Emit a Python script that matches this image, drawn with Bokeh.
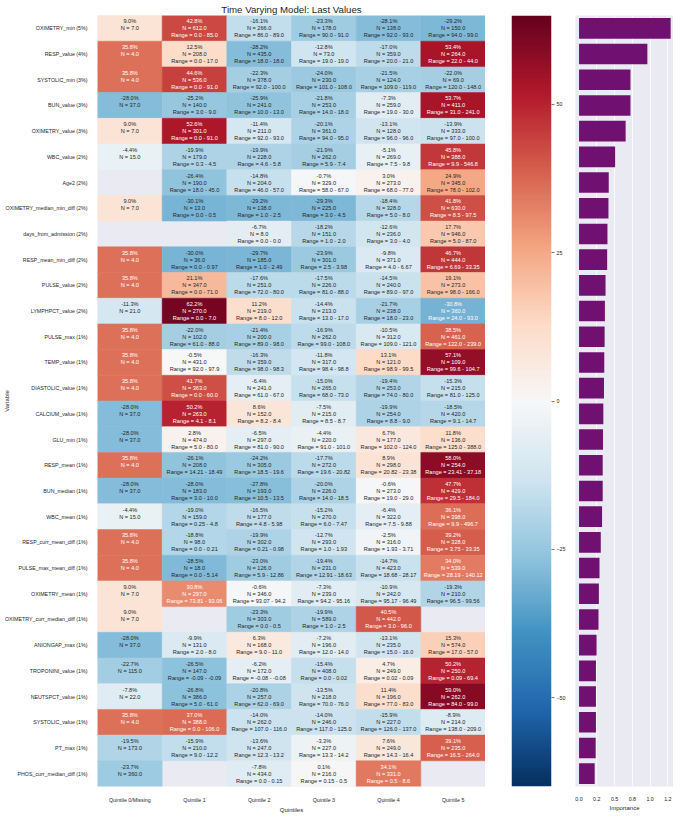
import numpy as np
from bokeh.plotting import figure
from bokeh.layouts import row
from bokeh.models import FactorRange, Range1d, FixedTicker, LinearColorMapper, ColumnDataSource
from bokeh.core.properties import value
from bokeh.embed import file_html
from bokeh.resources import INLINE

FONT = "Liberation Sans"
TXT = "#262626"

title = "Time Varying Model: Last Values"
variables = [
    "OXIMETRY_min (5%)", "RESP_value (4%)", "SYSTOLIC_min (3%)", "BUN_value (3%)",
    "OXIMETRY_value (3%)", "WBC_value (2%)", "Age2 (2%)", "OXIMETRY_median_min_diff (2%)",
    "days_from_admission (2%)", "RESP_mean_min_diff (2%)", "PULSE_value (2%)",
    "LYMPHPCT_value (2%)", "PULSE_max (1%)", "TEMP_value (1%)", "DIASTOLIC_value (1%)",
    "CALCIUM_value (1%)", "GLU_min (1%)", "RESP_mean (1%)", "BUN_median (1%)",
    "WBC_mean (1%)", "RESP_curr_mean_diff (1%)", "PULSE_max_mean_diff (1%)",
    "OXIMETRY_mean (1%)", "OXIMETRY_curr_median_diff (1%)", "ANIONGAP_max (1%)",
    "TROPONINI_value (1%)", "NEUTSPCT_value (1%)", "SYSTOLIC_value (1%)", "PT_max (1%)",
    "PHOS_curr_median_diff (1%)",
]
quintiles = ["Quintile 0/Missing", "Quintile 1", "Quintile 2", "Quintile 3", "Quintile 4", "Quintile 5"]

pct_q0 = [9.0, 35.8, 35.8, -28.0, 9.0, -4.4, None, 9.0, None, 35.8, 35.8, -11.3, 35.8, 35.8, 35.8,
          -28.0, -28.0, 35.8, -28.0, -4.4, 35.8, 35.8, 9.0, 9.0, -28.0, -22.7, -7.8, 35.8, -19.5, -23.7]
n_q0 = [7, 4, 4, 37, 7, 15, None, 7, None, 4, 4, 21, 4, 4, 4,
        37, 37, 4, 37, 15, 4, 4, 7, 7, 37, 115, 22, 4, 173, 360]

pct_q1 = [42.8, 12.5, 44.6, -25.2, 52.6, -19.9, -26.4, -30.1, None, -30.0, 21.1, 62.2, -22.0, -0.5, 41.7,
          50.2, 2.8, -26.1, -28.0, -19.0, -18.8, -28.5, 30.8, None, -9.9, -26.5, -26.8, 37.0, -15.9, None]
n_q1 = [612, 208, 536, 140, 301, 179, 190, 13, None, 36, 347, 270, 102, 431, 363,
        263, 474, 208, 183, 159, 98, 18, 297, None, 131, 147, 386, 388, 210, None]
lo_q1 = [0.0, 0.0, 0.0, 3.0, 0.0, 0.3, 18.0, 0.0, None, 0.0, 0.0, 0.0, 61.0, 92.0, 0.0,
         4.1, 5.0, 14.21, 3.0, 0.25, 0.0, 0.0, 73.81, None, 2.0, -0.09, 5.0, 0.0, 9.0, None]
hi_q1 = [85.0, 17.0, 91.0, 9.0, 91.0, 4.5, 45.0, 0.5, None, 0.97, 71.0, 7.0, 88.0, 97.9, 60.0,
         8.1, 80.0, 18.49, 10.0, 4.8, 0.21, 5.14, 93.06, None, 8.0, -0.09, 61.0, 106.0, 12.2, None]

pct_q2 = [-16.1, -28.2, -22.3, -25.9, -11.4, -19.9, -14.8, -29.2, -6.7, -29.7, -17.6, 11.2, -21.4, -16.3, -6.4,
          8.6, -6.5, -24.2, -27.8, -16.5, -19.9, -23.0, -0.6, -23.3, 6.3, -6.2, -20.8, -14.0, -13.6, -7.8]
n_q2 = [266, 435, 378, 241, 211, 228, 204, 138, 8, 185, 251, 219, 200, 359, 241,
        152, 297, 305, 193, 177, 302, 126, 346, 303, 168, 172, 257, 262, 247, 434]
lo_q2 = [86.0, 18.0, 92.0, 10.0, 92.0, 4.6, 46.0, 1.0, 0.0, 1.0, 72.0, 8.0, 89.0, 98.0, 61.0,
         8.2, 81.0, 18.5, 10.5, 4.8, 0.21, 5.9, 93.07, 0.0, 9.0, -0.08, 62.0, 107.0, 12.3, 0.0]
hi_q2 = [89.0, 18.0, 100.0, 13.0, 93.0, 5.8, 57.0, 2.5, 0.0, 2.49, 80.0, 12.0, 98.0, 98.3, 67.0,
         8.4, 90.0, 19.6, 13.5, 5.98, 0.98, 12.86, 94.2, 0.5, 11.0, -0.08, 69.0, 116.0, 13.2, 0.15]

pct_q3 = [-23.3, -12.8, -24.0, -21.8, -20.1, -21.9, -0.7, -29.3, -18.2, -23.9, -17.5, -14.4, -16.9, -11.8, -15.0,
          -7.5, -4.4, -17.7, -20.0, -15.2, -12.7, -19.4, -7.3, -19.9, -7.2, -15.4, -13.5, -14.0, -3.3, 0.1]
n_q3 = [178, 73, 230, 253, 361, 262, 329, 225, 151, 301, 226, 213, 262, 317, 265,
        215, 220, 272, 226, 270, 293, 231, 239, 589, 196, 408, 218, 246, 227, 216]
lo_q3 = [90.0, 19.0, 101.0, 14.0, 94.0, 5.9, 58.0, 3.0, 1.0, 2.5, 81.0, 13.0, 99.0, 98.4, 68.0,
         8.5, 91.0, 19.6, 14.0, 6.0, 1.0, 12.91, 94.2, 1.0, 12.0, 0.0, 70.0, 117.0, 13.3, 0.15]
hi_q3 = [91.0, 19.0, 108.0, 18.0, 95.0, 7.4, 67.0, 4.5, 2.0, 3.98, 88.0, 17.0, 108.0, 98.8, 73.0,
         8.7, 101.0, 20.82, 18.5, 7.47, 1.93, 18.63, 95.16, 2.5, 14.0, 0.02, 76.0, 125.0, 14.2, 0.5]

pct_q4 = [-28.1, -17.0, -21.5, -7.3, -13.1, -5.1, 3.0, -18.4, -12.6, -9.8, -14.5, -21.7, -10.5, 13.1, -19.4,
          -19.9, 6.7, 8.9, -0.6, -6.4, -2.5, -14.7, -10.9, 40.5, -13.1, 4.7, 11.4, -15.9, 7.6, 34.1]
n_q4 = [138, 359, 124, 259, 128, 269, 273, 328, 236, 371, 240, 238, 312, 121, 253,
        254, 177, 298, 273, 322, 316, 423, 242, 442, 235, 249, 196, 227, 249, 331]
lo_q4 = [92.0, 20.0, 109.0, 19.0, 96.0, 7.5, 68.0, 5.0, 3.0, 4.0, 89.0, 18.0, 109.0, 98.9, 74.0,
         8.8, 102.0, 20.82, 19.0, 7.5, 1.93, 18.68, 95.17, 3.0, 15.0, 0.02, 77.0, 126.0, 14.3, 0.5]
hi_q4 = [93.0, 21.0, 119.0, 30.0, 96.0, 9.8, 77.0, 8.0, 4.0, 6.67, 97.0, 23.0, 121.0, 99.5, 80.0,
         9.0, 124.0, 23.38, 29.0, 9.88, 3.71, 28.17, 96.49, 96.0, 16.0, 0.09, 83.0, 137.0, 16.4, 8.6]

pct_q5 = [-29.2, 53.4, -22.0, 53.7, -13.9, 45.8, 24.9, 41.8, 17.7, 46.7, 19.1, -30.8, 38.5, 57.1, -15.3,
          -18.5, 11.8, 58.0, 47.7, 36.1, 39.2, 34.0, -19.3, None, 15.3, 50.2, 59.0, -8.9, 39.1, None]
n_q5 = [150, 264, 69, 411, 333, 388, 345, 630, 946, 444, 273, 360, 461, 109, 215,
        420, 136, 254, 429, 398, 328, 539, 210, None, 574, 250, 262, 214, 235, None]
lo_q5 = [94.0, 22.0, 120.0, 31.0, 97.0, 9.9, 78.0, 8.5, 5.0, 6.69, 98.0, 24.0, 122.0, 99.6, 81.0,
         9.1, 125.0, 23.41, 29.5, 9.9, 3.75, 28.19, 96.5, None, 17.0, 0.09, 84.0, 138.0, 16.5, None]
hi_q5 = [99.0, 44.0, 148.0, 241.0, 100.0, 546.8, 102.0, 97.5, 87.0, 33.35, 166.0, 93.0, 239.0, 104.7, 125.0,
         14.7, 388.0, 37.18, 184.0, 496.7, 33.35, 140.12, 99.56, None, 57.0, 69.4, 99.0, 209.0, 264.0, None]

importance = [1.29, 0.962, 0.724, 0.724, 0.656, 0.508, 0.418, 0.414, 0.40, 0.396,
              0.373, 0.364, 0.36, 0.355, 0.351, 0.342, 0.337, 0.333, 0.333, 0.324,
              0.306, 0.288, 0.279, 0.274, 0.247, 0.238, 0.238, 0.238, 0.234, 0.22]

VMIN, VMAX = -65.0, 65.0
cbar_ticks = [-50, -25, 0, 25, 50]
cbar_tick_labels = ["\u221250", "\u221225", "0", "25", "50"]
imp_ticks = [0.0, 0.25, 0.5, 0.75, 1.0, 1.25]
imp_tick_labels = ["0.0", "0.2", "0.5", "0.8", "1.0", "1.2"]

# ---- RdBu_r colormap (256 steps) ----
rdbu = ["#67001f", "#b2182b", "#d6604d", "#f4a582", "#fddbc7", "#f7f7f7",
        "#d1e5f0", "#92c5de", "#4393c3", "#2166ac", "#053061"]
anchors = np.array([[int(h[k:k + 2], 16) for k in (1, 3, 5)] for h in rdbu[::-1]]) / 255.0
ax = np.linspace(0, 1, len(anchors))
lut = np.stack([np.interp(np.linspace(0, 1, 256), ax, anchors[:, k]) for k in range(3)], axis=1)


def to_hex(rgb):
    return "#%02x%02x%02x" % tuple(int(round(c * 255)) for c in rgb)


def cmap(v):
    f = (v - VMIN) / (VMAX - VMIN)
    i = int(np.clip(np.floor(f * 256), 0, 255))
    return lut[i]


def text_color(rgb):
    c = np.where(rgb <= .03928, rgb / 12.92, ((rgb + .055) / 1.055) ** 2.4)
    lum = c.dot([.2126, .7152, .0722])
    return TXT if lum > .408 else "white"


palette = [to_hex(c) for c in lut]

pcts = [pct_q0, pct_q1, pct_q2, pct_q3, pct_q4, pct_q5]
ns = [n_q0, n_q1, n_q2, n_q3, n_q4, n_q5]
los = [None, lo_q1, lo_q2, lo_q3, lo_q4, lo_q5]
his = [None, hi_q1, hi_q2, hi_q3, hi_q4, hi_q5]

cells = dict(q=[], v=[], c=[], tc=[], t1=[], t2=[], t3=[])
for j, q in enumerate(quintiles):
    for i, var in enumerate(variables):
        pv = pcts[j][i]
        if pv is None:
            continue
        rgb = cmap(pv)
        cells["q"].append(q)
        cells["v"].append(var)
        cells["c"].append(to_hex(rgb))
        cells["tc"].append(text_color(rgb))
        cells["t1"].append(f"{pv:.1f}%")
        cells["t2"].append(f"N = {float(ns[j][i]):.1f}")
        cells["t3"].append("" if los[j] is None else f"Range = {los[j][i]} - {his[j][i]}")
src = ColumnDataSource(cells)

H = 815
TOP, BOTTOM = 15, 21
LBL = "5.3px"

# ---- Heatmap ----
p = figure(x_range=FactorRange(*quintiles), y_range=FactorRange(*variables[::-1]),
           width=485, height=H, output_backend="svg", toolbar_location=None,
           min_border_left=87, min_border_right=0, min_border_top=TOP, min_border_bottom=BOTTOM,
           title=title)
p.title.text_font = FONT
p.title.text_font_size = "9.7px"
p.title.text_font_style = "normal"
p.title.text_color = TXT
p.title.align = "center"
p.title.standoff = 2
p.background_fill_color = "#EAEAF2"
p.border_fill_color = "white"
p.outline_line_color = None
p.grid.visible = False

p.rect(x="q", y="v", width=1, height=1, fill_color="c", line_color="c", line_width=0.5, source=src)
for col, off in (("t1", -7), ("t2", 0), ("t3", 7)):
    p.text(x="q", y="v", text=col, y_offset=off, text_align="center", text_baseline="middle",
           text_font=value(FONT), text_font_size="5.6px", text_color="tc", source=src)

for a in (p.xaxis[0], p.yaxis[0]):
    a.axis_line_color = None
    a.major_tick_line_color = None
    a.minor_tick_line_color = None
    a.major_label_text_font = FONT
    a.major_label_text_font_size = LBL
    a.major_label_text_color = TXT
    a.major_label_standoff = 4
    a.axis_label_text_font = FONT
    a.axis_label_text_font_size = "6px"
    a.axis_label_text_font_style = "normal"
    a.axis_label_text_color = TXT
p.xaxis.axis_label = "Quintiles"
p.xaxis.axis_label_standoff = 1
p.yaxis.axis_label = "Variable"
p.yaxis.axis_label_standoff = -8

# ---- Colorbar ----
mapper = LinearColorMapper(palette=palette, low=VMIN, high=VMAX)
grad = np.linspace(VMIN, VMAX, 256).reshape(256, 1)
pc = figure(x_range=Range1d(0, 1), y_range=Range1d(VMIN, VMAX), width=88, height=H,
            output_backend="svg", toolbar_location=None, y_axis_location="right",
            min_border_left=26, min_border_right=22, min_border_top=TOP, min_border_bottom=BOTTOM)
pc.image(image=[grad], x=0, y=VMIN, dw=1, dh=VMAX - VMIN, color_mapper=mapper)
pc.xaxis.visible = False
pc.grid.visible = False
pc.outline_line_color = None
pc.yaxis.ticker = FixedTicker(ticks=cbar_ticks)
pc.yaxis.major_label_overrides = dict(zip(cbar_ticks, cbar_tick_labels))
pc.yaxis.axis_line_color = None
pc.yaxis.major_tick_out = 3
pc.yaxis.major_tick_in = 0
pc.yaxis.major_tick_line_color = TXT
pc.yaxis.major_tick_line_width = 0.6
pc.yaxis.minor_tick_line_color = None
pc.yaxis.major_label_text_font = FONT
pc.yaxis.major_label_text_font_size = LBL
pc.yaxis.major_label_text_color = TXT
pc.yaxis.major_label_standoff = 2

# ---- Importance bars ----
pb = figure(x_range=Range1d(-0.05, 1.33), y_range=p.y_range, width=100, height=H,
            output_backend="svg", toolbar_location=None,
            min_border_left=2, min_border_right=0, min_border_top=TOP, min_border_bottom=BOTTOM)
pb.background_fill_color = "#EAEAF2"
pb.outline_line_color = None
pb.hbar(y=variables, left=0, right=importance, height=0.8, fill_color="#701070", line_color=None)
pb.yaxis.visible = False
pb.ygrid.visible = False
pb.xgrid.ticker = FixedTicker(ticks=imp_ticks)
pb.xgrid.grid_line_color = "white"
pb.xgrid.grid_line_width = 0.8
pb.xaxis.ticker = FixedTicker(ticks=imp_ticks)
pb.xaxis.major_label_overrides = dict(zip(imp_ticks, imp_tick_labels))
pb.xaxis.axis_line_color = None
pb.xaxis.major_tick_line_color = None
pb.xaxis.minor_tick_line_color = None
pb.xaxis.major_label_text_font = FONT
pb.xaxis.major_label_text_font_size = LBL
pb.xaxis.major_label_text_color = TXT
pb.xaxis.major_label_standoff = 4
pb.xaxis.axis_label = "Importance"
pb.xaxis.axis_label_standoff = 1
pb.xaxis.axis_label_text_font = FONT
pb.xaxis.axis_label_text_font_size = "6px"
pb.xaxis.axis_label_text_font_style = "normal"
pb.xaxis.axis_label_text_color = TXT

layout = row(p, pc, pb)
open("out.html", "w").write(file_html(layout, INLINE))
